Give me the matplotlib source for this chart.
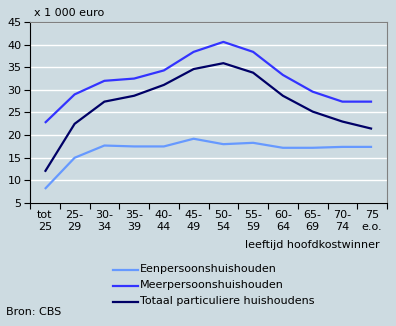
import matplotlib
matplotlib.use("Agg")
import matplotlib.pyplot as plt
import numpy as np

# data (x 1 000 euro)
categories = ["tot\n25", "25-\n29", "30-\n34", "35-\n39", "40-\n44", "45-\n49",
              "50-\n54", "55-\n59", "60-\n64", "65-\n69", "70-\n74", "75\ne.o."]
eenpersoons = [8.1, 15.0, 17.7, 17.5, 17.5, 19.2, 18.0, 18.3, 17.2, 17.2, 17.4, 17.4]
meerpersoons = [22.7, 29.0, 32.0, 32.5, 34.3, 38.4, 40.6, 38.4, 33.3, 29.6, 27.4, 27.4]
totaal = [11.9, 22.5, 27.4, 28.7, 31.1, 34.6, 35.9, 33.8, 28.7, 25.2, 23.0, 21.4]
series_names = ["Eenpersoonshuishouden", "Meerpersoonshuishouden",
                "Totaal particuliere huishoudens"]
colors = ["#6699ff", "#3333ff", "#000066"]

bg = "#cddbe1"
fs = 8
W, H = 396, 326
fig = plt.figure(figsize=(W / 100, H / 100), dpi=100, facecolor=bg)
ax = fig.add_axes([30 / W, 1 - 203 / H, 357 / W, 181 / H], facecolor=bg)

x = np.arange(len(categories))
for vals, c in zip([eenpersoons, meerpersoons, totaal], colors):
    ax.plot(x, vals, color=c, lw=1.6, solid_capstyle="butt")

ax.set_xlim(-0.5, len(categories) - 0.5)
ax.set_ylim(5, 45)
ax.set_yticks(range(5, 46, 5))
ax.yaxis.grid(True, color="white", lw=1)
ax.set_axisbelow(True)

ax.set_xticks(np.arange(-0.5, len(categories), 1))
ax.set_xticklabels([])
ax.set_xticks(x, minor=True)
ax.set_xticklabels(categories, minor=True, fontsize=fs, linespacing=1.3)
ax.tick_params(axis="x", which="minor", length=0, pad=5)
ax.tick_params(axis="x", which="major", length=4, color="black")
ax.tick_params(axis="y", length=4, labelsize=fs, pad=2)

for s in ["top", "right"]:
    ax.spines[s].set_color("#808080")
for s in ["left", "bottom"]:
    ax.spines[s].set_color("black")

fig.text(34 / W, 1 - 13 / H, "x 1 000 euro", fontsize=fs, va="center")
fig.text(380 / W, 1 - 245 / H, "leeftijd hoofdkostwinner", fontsize=fs,
         ha="right", va="center")

for i, (name, c) in enumerate(zip(series_names, colors)):
    yy = 1 - (269.5 + 16 * i) / H
    fig.add_artist(plt.Line2D([113 / W, 138 / W], [yy, yy], color=c, lw=1.6))
    fig.text(140 / W, yy, name, fontsize=fs, va="center")

fig.text(6 / W, 1 - 312 / H, "Bron: CBS", fontsize=fs, va="center")

fig.savefig("out.png", dpi=100, facecolor=bg)
